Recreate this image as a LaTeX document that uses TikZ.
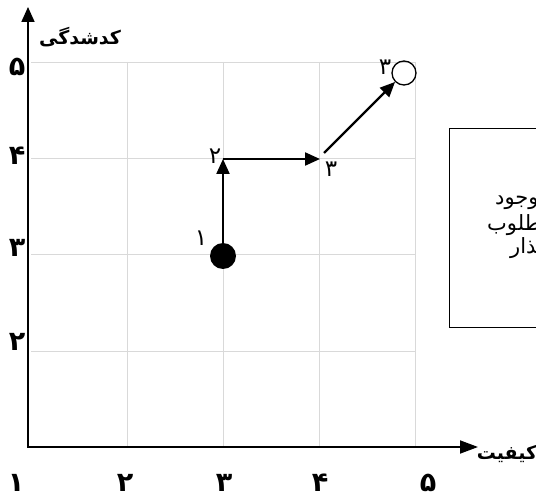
\documentclass[tikz,border=0pt]{standalone}
\usepackage{fontspec}
\newfontfamily\fa[Script=Arabic]{DejaVu Sans}
\TeXXeTstate=1
\usetikzlibrary{arrows.meta}
\begin{document}
\begin{tikzpicture}[x=1pt,y=-1pt,
  gridline/.style={draw=black!15, line width=0.9pt},
  axisline/.style={line width=1.8pt, {Triangle[length=15pt,width=13pt]}-{Triangle[length=18pt,width=13pt]}},
  flow/.style={line width=2.2pt, -{Triangle[length=15pt,width=13pt]}},
  ticklbl/.style={font=\fa\bfseries\fontsize{27}{30}\selectfont, inner sep=0pt},
  axislbl/.style={font=\fa\bfseries\fontsize{19}{22}\selectfont, inner sep=0pt},
  ptlbl/.style={font=\fa\fontsize{23}{26}\selectfont, inner sep=0pt},
  boxtxt/.style={font=\fa\fontsize{21}{24}\selectfont, inner sep=0pt, anchor=west},
]
\useasboundingbox (0,0) rectangle (536,497);
\clip (0,0) rectangle (536,497);
% grid
\foreach \y in {62,158,254,351} \draw[gridline] (31,\y) -- (415,\y);
\foreach \x in {127,223,319,415} \draw[gridline] (\x,62) -- (\x,447);
% axes
\coordinate (O) at (28,447);
\coordinate (Ytip) at (28,7);
\coordinate (Xtip) at (478,447);
\draw[axisline] (Ytip) -- (O) -- (Xtip);
\node[axislbl] (ylab) at (80,37) {\beginR کدشدگی\endR};
\node[axislbl] (xlab) at (507,454) {\beginR کیفیت\endR};
% tick labels
\node[ticklbl] (tx1) at (16,483) {۱};
\node[ticklbl] (tx2) at (125,483) {۲};
\node[ticklbl] (tx3) at (224,483) {۳};
\node[ticklbl] (tx4) at (320,483) {۴};
\node[ticklbl] (tx5) at (428,483) {۵};
\node[ticklbl] (ty5) at (17,67) {۵};
\node[ticklbl] (ty4) at (17,156) {۴};
\node[ticklbl] (ty3) at (17,248) {۳};
\node[ticklbl] (ty2) at (17,342) {۲};
% path
\node[circle, fill=black, minimum size=26pt, inner sep=0pt] (P1) at (223,256) {};
\coordinate (P2) at (223,159);
\coordinate (P3) at (320,159);
\coordinate (P3s) at (324,153);
\node[circle, draw, line width=1.3pt, minimum size=24pt, inner sep=0pt] (P4) at (404,73) {};
\draw[flow] (P1) -- (P2);
\draw[flow] (P2) -- (P3);
\draw[flow] (P3s) -- (P4);
\node[ptlbl] (L1) at (201,238) {۱};
\node[ptlbl] (L2) at (215,156) {۲};
\node[ptlbl] (L3) at (331,169) {۳};
\node[ptlbl] (L4) at (385,67) {۳};
% box
\node[draw, line width=1.4pt, minimum width=200pt, minimum height=199pt, anchor=north west, inner sep=0pt] (box) at (449,128) {};
\node[boxtxt] (b1) at (495,202) {\beginR وضعیت موجود\endR};
\node[boxtxt] (b2) at (487,225) {\beginR وضعیت مطلوب\endR};
\node[boxtxt] (b3) at (510,247) {\beginR مسیر گذار\endR};
\end{tikzpicture}
\end{document}
